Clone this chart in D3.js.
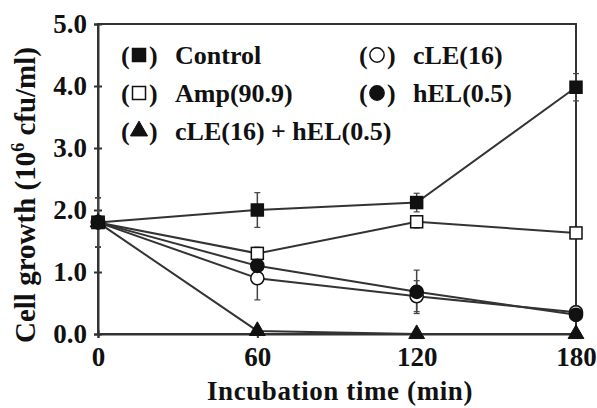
<!DOCTYPE html>
<html><head><meta charset="utf-8">
<script src="https://cdn.jsdelivr.net/npm/d3@7"></script>
<style>body{margin:0;background:#fff;} text{font-family:"Liberation Serif","Times New Roman",serif;font-weight:bold;fill:#111;}</style>
</head><body>
<svg id="c" width="597" height="408"></svg>
<script>
const times = [0, 60, 120, 180];
const xTicks = [0, 60, 120, 180];
const yTicks = [0, 1, 2, 3, 4, 5];
const control = [1.8, 2.0, 2.12, 3.98];
const controlErr = [0.4, 0.28, 0.15, 0.22];
const amp = [1.8, 1.3, 1.81, 1.63];
const ampErr = [0.4, 0.1, 0.1, 0.05];
const cle = [1.8, 0.9, 0.61, 0.35];
const cleErr = [0.4, 0.35, 0.25, 0.1];
const hel = [1.8, 1.1, 0.68, 0.31];
const helErr = [0.4, 0.1, 0.35, 0.1];
const combo = [1.8, 0.05, 0.0, 0.0];
const comboErr = [0.4, 0.05, 0.0, 0.0];
const seriesNames = ["Control", "Amp(90.9)", "cLE(16) + hEL(0.5)", "cLE(16)", "hEL(0.5)"];

const svg = d3.select("#c");
const x = d3.scaleLinear().domain([0, 180]).range([98, 576]);
const y = d3.scaleLinear().domain([0, 5]).range([334, 24]);

// frame
svg.append("rect").attr("x", x(0)).attr("y", y(5)).attr("width", x(180)-x(0)).attr("height", y(0)-y(5))
  .attr("fill", "none").attr("stroke", "#333").attr("stroke-width", 2);

// axes
const yAx = svg.append("g").attr("transform", `translate(${x(0)},0)`)
  .call(d3.axisLeft(y).tickValues(yTicks).tickFormat(d3.format(".1f")).tickSize(4).tickPadding(7));
const xAx = svg.append("g").attr("transform", `translate(0,${y(0)})`)
  .call(d3.axisBottom(x).tickValues(xTicks).tickFormat(d3.format("d")).tickSize(4).tickPadding(9));
[yAx, xAx].forEach(g => {
  g.select(".domain").attr("stroke", "#333").attr("stroke-width", 2);
  g.selectAll(".tick line").attr("stroke", "#333").attr("stroke-width", 2);
  g.selectAll("text").attr("font-size", 27).style("font-family", '"Liberation Serif",serif').style("font-weight", "bold").attr("fill", "#111");
});
yAx.selectAll(".tick line").attr("x1", 4);
xAx.selectAll(".tick line").attr("y1", -4);

// axis titles
svg.append("text").attr("x", 340).attr("y", 400).attr("text-anchor", "middle").attr("font-size", 27)
  .attr("letter-spacing", 0.6).text("Incubation time (min)");
const yt = svg.append("text").attr("transform", "translate(35,195) rotate(-90)").attr("text-anchor", "middle").attr("font-size", 29);
yt.append("tspan").text("Cell growth (10");
yt.append("tspan").attr("font-size", 18).attr("dy", -11).text("6");
yt.append("tspan").attr("dy", 11).text(" cfu/ml)");

const line = d3.line().x((d, i) => x(times[i])).y(d => y(d));
const series = [
  {v: control, e: controlErr, m: "sq", fill: "#111"},
  {v: amp, e: ampErr, m: "sq", fill: "#fff"},
  {v: combo, e: comboErr, m: "tri", fill: "#111"},
  {v: cle, e: cleErr, m: "ci", fill: "#fff"},
  {v: hel, e: helErr, m: "ci", fill: "#111"}
];

// error bars
series.forEach(s => {
  const g = svg.append("g");
  s.v.forEach((v, i) => {
    if (s.e[i] <= 0) return;
    const cx = x(times[i]);
    g.append("line").attr("x1", cx).attr("x2", cx).attr("y1", y(v - s.e[i])).attr("y2", y(v + s.e[i]))
      .attr("stroke", "#444").attr("stroke-width", 1.5);
    [v - s.e[i], v + s.e[i]].forEach(e => g.append("line").attr("x1", cx-3).attr("x2", cx+3).attr("y1", y(e)).attr("y2", y(e)).attr("stroke", "#444").attr("stroke-width", 1.2));
  });
});
// lines
series.forEach(s => {
  svg.append("path").datum(s.v).attr("d", line).attr("fill", "none").attr("stroke", "#333").attr("stroke-width", 2);
});
function marker(g, type, cx, cy, fill, sz) {
  if (type === "sq") g.append("rect").attr("x", cx - sz/2).attr("y", cy - sz/2).attr("width", sz).attr("height", sz)
    .attr("fill", fill).attr("stroke", "#111").attr("stroke-width", 1.5);
  else if (type === "ci") g.append("circle").attr("cx", cx).attr("cy", cy).attr("r", sz*0.55)
    .attr("fill", fill).attr("stroke", "#111").attr("stroke-width", 1.5);
  else g.append("path").attr("d", d3.symbol(d3.symbolTriangle, sz*sz*0.75)()).attr("transform", `translate(${cx},${cy})`)
    .attr("fill", fill).attr("stroke", "#111").attr("stroke-width", 1);
}
series.forEach(s => {
  const g = svg.append("g");
  s.v.forEach((v, i) => marker(g, s.m, x(times[i]), y(v), s.fill, 12));
});

// legend
const legPos = [[121, 55], [121, 93], [121, 131], [359, 55], [359, 93]];
series.forEach((s, k) => {
  const [lx, ly] = legPos[k];
  svg.append("text").attr("x", lx).attr("y", ly + 9).attr("font-size", 26).text("(");
  marker(svg, s.m, lx + 18, ly, s.fill, 13);
  svg.append("text").attr("x", lx + 28).attr("y", ly + 9).attr("font-size", 26).text(")");
  svg.append("text").attr("x", lx + 54).attr("y", ly + 9).attr("font-size", 26).text(seriesNames[k]);
});
</script>
</body></html>
